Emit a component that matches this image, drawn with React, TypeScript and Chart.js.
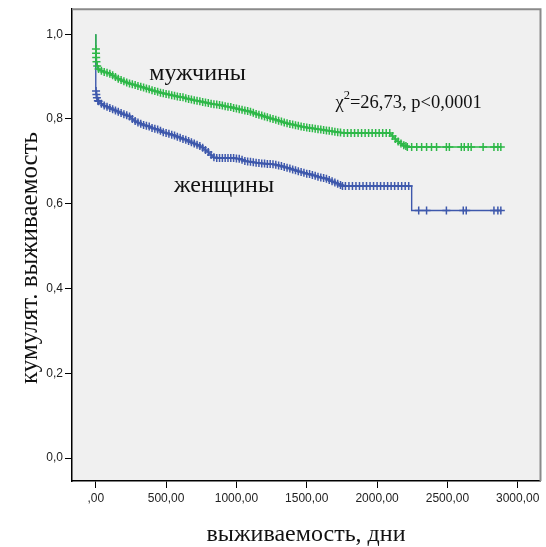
import { useEffect, useRef } from "react";
import { Chart, registerables } from "chart.js";

Chart.register(...registerables);

// ---- data ----
// Men: survival curve points; every point after a step corner carries a censor mark
const menDays = [
  0, 1, 2, 3, 5, 10, 20, 40, 60, 80, 100, 120, 140, 160, 180, 200, 220, 240, 260, 280, 300,
  320, 340, 360, 380, 400, 420, 440, 460, 480, 500, 520, 540, 560, 580, 600, 620, 640, 660,
  680, 700, 720, 740, 760, 780, 800, 820, 840, 860, 880, 900, 920, 940, 960, 980, 1000, 1020,
  1040, 1060, 1080, 1100, 1120, 1140, 1160, 1180, 1200, 1220, 1240, 1260, 1280, 1300, 1320,
  1340, 1360, 1380, 1400, 1420, 1440, 1460, 1480, 1500, 1520, 1540, 1560, 1580, 1600, 1620,
  1640, 1660, 1680, 1700, 1720, 1740, 1765, 1790, 1815, 1840, 1865, 1890, 1915, 1940, 1965,
  1990, 2015, 2040, 2065, 2090, 2110, 2130, 2150, 2170, 2190, 2205, 2215, 2246, 2282, 2317,
  2352, 2387, 2423, 2493, 2514, 2599, 2620, 2648, 2669, 2754, 2831, 2859, 2880,
];
const menSurv = [
  1.0, 0.965, 0.955, 0.945, 0.935, 0.925, 0.918, 0.914, 0.911, 0.909, 0.907, 0.903, 0.899,
  0.895, 0.892, 0.889, 0.886, 0.884, 0.882, 0.88, 0.878, 0.876, 0.874, 0.872, 0.87, 0.868,
  0.866, 0.864, 0.862, 0.861, 0.859, 0.858, 0.856, 0.855, 0.853, 0.852, 0.851, 0.849, 0.847,
  0.846, 0.844, 0.843, 0.842, 0.84, 0.839, 0.838, 0.836, 0.835, 0.834, 0.833, 0.832, 0.83,
  0.829, 0.828, 0.826, 0.825, 0.823, 0.822, 0.82, 0.819, 0.817, 0.815, 0.812, 0.81, 0.808,
  0.806, 0.804, 0.802, 0.8, 0.798, 0.796, 0.794, 0.792, 0.79, 0.788, 0.787, 0.785, 0.784,
  0.782, 0.781, 0.78, 0.779, 0.778, 0.777, 0.776, 0.775, 0.774, 0.773, 0.772, 0.771, 0.77,
  0.769, 0.768, 0.767, 0.767, 0.767, 0.767, 0.767, 0.767, 0.767, 0.767, 0.767, 0.767, 0.767,
  0.767, 0.767, 0.767, 0.76, 0.753, 0.747, 0.742, 0.738, 0.736, 0.734, 0.734, 0.734, 0.734,
  0.734, 0.734, 0.734, 0.734, 0.734, 0.734, 0.734, 0.734, 0.734, 0.734, 0.734, 0.734, 0.734,
];
// Women
const womenDays = [
  0, 0, 2, 4, 8, 15, 20, 40, 60, 80, 100, 120, 140, 160, 180, 200, 220, 240, 260, 280, 300,
  320, 340, 360, 380, 400, 420, 440, 460, 480, 500, 520, 540, 560, 580, 600, 620, 640, 660,
  680, 700, 720, 740, 760, 780, 800, 820, 840, 860, 880, 900, 920, 940, 960, 980, 1000, 1020,
  1040, 1060, 1080, 1100, 1120, 1140, 1160, 1180, 1200, 1220, 1240, 1260, 1280, 1300, 1320,
  1340, 1360, 1380, 1400, 1420, 1440, 1460, 1480, 1500, 1520, 1540, 1560, 1580, 1600, 1620,
  1640, 1660, 1680, 1700, 1720, 1740, 1754, 1775, 1800, 1825, 1850, 1875, 1900, 1925, 1950,
  1975, 2000, 2025, 2050, 2075, 2100, 2125, 2150, 2175, 2200, 2225, 2246, 2246, 2296, 2352,
  2493, 2613, 2634, 2831, 2859, 2880,
];
const womenSurv = [
  1.0, 0.875, 0.866, 0.858, 0.85, 0.843, 0.842, 0.836, 0.832, 0.829, 0.826, 0.823, 0.82,
  0.817, 0.814, 0.811, 0.809, 0.806, 0.8, 0.795, 0.792, 0.789, 0.786, 0.784, 0.782, 0.779,
  0.777, 0.775, 0.772, 0.769, 0.767, 0.765, 0.763, 0.761, 0.758, 0.756, 0.753, 0.751, 0.748,
  0.745, 0.742, 0.739, 0.736, 0.732, 0.727, 0.722, 0.715, 0.71, 0.708, 0.708, 0.708, 0.708,
  0.708, 0.708, 0.708, 0.707, 0.706, 0.704, 0.701, 0.7, 0.699, 0.698, 0.697, 0.696, 0.695,
  0.695, 0.694, 0.694, 0.693, 0.692, 0.69, 0.689, 0.687, 0.685, 0.683, 0.681, 0.679, 0.677,
  0.675, 0.673, 0.671, 0.67, 0.668, 0.666, 0.664, 0.662, 0.661, 0.659, 0.656, 0.653, 0.65,
  0.647, 0.644, 0.642, 0.642, 0.642, 0.642, 0.642, 0.642, 0.642, 0.642, 0.642, 0.642, 0.642,
  0.642, 0.642, 0.642, 0.642, 0.642, 0.642, 0.642, 0.642, 0.642, 0.642, 0.584, 0.584, 0.584,
  0.584, 0.584, 0.584, 0.584, 0.584, 0.584,
];
const seriesLabels = ["мужчины", "женщины"];
const xTickValues = [0, 500, 1000, 1500, 2000, 2500, 3000];
const xTickLabels = [",00", "500,00", "1000,00", "1500,00", "2000,00", "2500,00", "3000,00"];
const yTickValues = [0, 0.2, 0.4, 0.6, 0.8, 1.0];
const yTickLabels = ["0,0", "0,2", "0,4", "0,6", "0,8", "1,0"];
const xTitle = "выживаемость, дни";
const yTitle = "кумулят. выживаемость";
const statSymbol = "χ";
const statSup = "2";
const statRest = "=26,73, p<0,0001";

const GREEN = "#2EB848";
const BLUE = "#3E58AC";
const SERIF = '"Liberation Serif", "Times New Roman", serif';
const SANS = '"Liberation Sans", Arial, sans-serif';

export default function App() {
  const ref = useRef<HTMLCanvasElement>(null);

  useEffect(() => {
    const canvas = ref.current!;
    const mk = (days: number[], surv: number[]) => days.map((d, i) => ({ x: d, y: surv[i] }));
    const radiusFn = (ctx: any) => {
      const data = ctx.dataset.data as { x: number; y: number }[];
      const i = ctx.dataIndex;
      if (i === 0) return 0;
      if (data[i + 1] && data[i + 1].x === data[i].x) return 0;
      if (data[i - 1] && data[i - 1].x === data[i].x) return 0;
      return 4;
    };

    const decor = {
      id: "decor",
      beforeDraw(chart: any) {
        const { ctx, chartArea: a } = chart;
        ctx.save();
        ctx.fillStyle = "#F0F0F0";
        ctx.fillRect(a.left, a.top, a.right - a.left, a.bottom - a.top);
        ctx.restore();
      },
      afterDraw(chart: any) {
        const { ctx, chartArea: a, scales } = chart;
        const xs = scales.x;
        const ys = scales.y;
        ctx.save();
        ctx.strokeStyle = "#8a8a8a";
        ctx.lineWidth = 2;
        ctx.beginPath();
        ctx.moveTo(a.left, a.top);
        ctx.lineTo(a.right, a.top);
        ctx.lineTo(a.right, a.bottom);
        ctx.stroke();

        ctx.fillStyle = "#111";
        ctx.textBaseline = "middle";
        // axis titles
        ctx.font = `24px ${SERIF}`;
        ctx.textAlign = "center";
        ctx.fillText(xTitle, 306, 535);
        ctx.save();
        ctx.translate(30, 258);
        ctx.rotate(-Math.PI / 2);
        ctx.font = `25px ${SERIF}`;
        ctx.fillText(yTitle, 0, 0);
        ctx.restore();

        // series labels
        ctx.textAlign = "left";
        ctx.font = `24px ${SERIF}`;
        ctx.fillText(seriesLabels[0], xs.getPixelForValue(380), ys.getPixelForValue(0.906));
        ctx.fillText(seriesLabels[1], xs.getPixelForValue(556), ys.getPixelForValue(0.642));

        // statistic
        let px = xs.getPixelForValue(1704);
        const py = ys.getPixelForValue(0.838);
        ctx.font = `18.5px ${SERIF}`;
        ctx.fillText(statSymbol, px, py);
        px += ctx.measureText(statSymbol).width;
        ctx.font = `12.5px ${SERIF}`;
        ctx.fillText(statSup, px, py - 7);
        px += ctx.measureText(statSup).width;
        ctx.font = `18.5px ${SERIF}`;
        ctx.fillText(statRest, px, py);
        ctx.restore();
      },
    };

    const chart = new Chart(canvas, {
      type: "line",
      data: {
        datasets: [
          {
            label: seriesLabels[0],
            data: mk(menDays, menSurv),
            borderColor: GREEN,
            backgroundColor: GREEN,
            borderWidth: 1.4,
            pointStyle: "cross",
            pointRadius: radiusFn,
            pointBorderWidth: 1.5,
            pointBorderColor: GREEN,
            tension: 0,
            fill: false,
          },
          {
            label: seriesLabels[1],
            data: mk(womenDays, womenSurv),
            borderColor: BLUE,
            backgroundColor: BLUE,
            borderWidth: 1.4,
            pointStyle: "cross",
            pointRadius: radiusFn,
            pointBorderWidth: 1.5,
            pointBorderColor: BLUE,
            tension: 0,
            fill: false,
          },
        ],
      },
      options: {
        responsive: false,
        animation: false,
        layout: { padding: { left: 0, top: 8, right: 1, bottom: 0 } },
        plugins: { legend: { display: false }, tooltip: { enabled: false } },
        scales: {
          x: {
            type: "linear",
            min: -169,
            max: 3162,
            afterBuildTicks: (s: any) => {
              s.ticks = xTickValues.map((v) => ({ value: v }));
            },
            afterFit: (s: any) => {
              s.height = 66;
            },
            ticks: {
              autoSkip: false,
              maxRotation: 0,
              padding: 3,
              color: "#222",
              font: { family: SANS, size: 12 },
              callback: (v: any) => xTickLabels[xTickValues.indexOf(Number(v))],
            },
            grid: { drawOnChartArea: false, drawTicks: true, tickLength: 7, color: "#000" },
            border: { display: true, color: "#000", width: 1.5 },
          },
          y: {
            type: "linear",
            min: -0.054,
            max: 1.059,
            afterBuildTicks: (s: any) => {
              s.ticks = yTickValues.map((v) => ({ value: v }));
            },
            afterFit: (s: any) => {
              s.width = 72;
            },
            ticks: {
              autoSkip: false,
              padding: 2,
              color: "#222",
              font: { family: SANS, size: 12 },
              callback: (v: any) => yTickLabels[yTickValues.indexOf(Number(v))],
            },
            grid: { drawOnChartArea: false, drawTicks: true, tickLength: 7, color: "#000" },
            border: { display: true, color: "#000", width: 1.5 },
          },
        },
      },
      plugins: [decor],
    });
    return () => chart.destroy();
  }, []);

  return (
    <div style={{ position: "absolute", left: 0, top: 0, width: 546, height: 547, background: "#fff" }}>
      <canvas ref={ref} width={546} height={547} style={{ display: "block" }} />
    </div>
  );
}
